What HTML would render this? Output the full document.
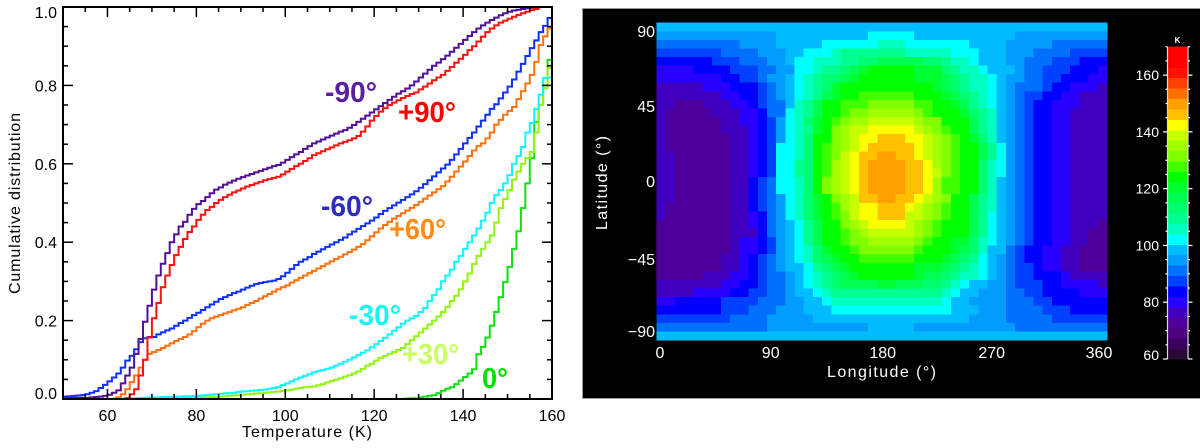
<!DOCTYPE html>
<html lang="en">
<head>
<meta charset="utf-8">
<title>Temperature distribution and map</title>
<style>
html,body{margin:0;padding:0;background:#fff;}
body{width:1200px;height:448px;overflow:hidden;}
svg{display:block;font-family:"Liberation Sans",sans-serif;}
</style>
</head>
<body>
<svg id="figure" xmlns="http://www.w3.org/2000/svg" width="1200" height="448" viewBox="0 0 1200 448">
  <rect x="0" y="0" width="1200" height="448" fill="#ffffff"/>
  <g id="cdf">
    <defs><clipPath id="plotClip"><rect x="63" y="6" width="489" height="394"/></clipPath></defs>
    <g id="cdfLines" clip-path="url(#plotClip)"></g>
    <g id="cdfAxes"></g>
    <text x="242" y="437" font-size="16" textLength="130" lengthAdjust="spacing" fill="#000">Temperature (K)</text>
    <text transform="translate(20,294) rotate(-90)" font-size="16" textLength="181" lengthAdjust="spacing" fill="#000">Cumulative distribution</text>
    <text x="325" y="102" font-size="29" font-weight="bold" fill="#5a1ea0" textLength="52" lengthAdjust="spacingAndGlyphs">-90°</text>
    <text x="398" y="122" font-size="29" font-weight="bold" fill="#ff0000" textLength="58" lengthAdjust="spacingAndGlyphs">+90°</text>
    <text x="321" y="216" font-size="29" font-weight="bold" fill="#2c2cc0" textLength="52" lengthAdjust="spacingAndGlyphs">-60°</text>
    <text x="389" y="239" font-size="29" font-weight="bold" fill="#ff8c1a" textLength="57" lengthAdjust="spacingAndGlyphs">+60°</text>
    <text x="349" y="325" font-size="29" font-weight="bold" fill="#19f5f5" textLength="52" lengthAdjust="spacingAndGlyphs">-30°</text>
    <text x="402" y="364" font-size="29" font-weight="bold" fill="#c8ff60" textLength="57" lengthAdjust="spacingAndGlyphs">+30°</text>
    <text x="482" y="388" font-size="29" font-weight="bold" fill="#00e000" textLength="26" lengthAdjust="spacingAndGlyphs">0°</text>
  </g>
  <rect x="582.5" y="8.5" width="618" height="390" fill="#000000" stroke="#9a9a9a" stroke-width="1"/>
  <g id="map" shape-rendering="crispEdges"></g>
  <g id="mapAxes"></g>
  <text x="827" y="377" font-size="16" fill="#fff" textLength="109" lengthAdjust="spacing">Longitude (°)</text>
  <text transform="translate(607,230) rotate(-90)" font-size="16" fill="#fff" textLength="94" lengthAdjust="spacing">Latitude (°)</text>
  <g id="colorbar"></g>
  <text x="1177.5" y="43" font-size="8" font-weight="bold" fill="#fff" text-anchor="middle">K</text>
</svg>
<script>
// ---------- Cumulative distribution data: one value per 1 K bin, from 50 K to 159 K ----------
const firstBinK = 50;
const xTickLabels = [60, 80, 100, 120, 140, 160];
const yTickLabels = ["0.0", "0.2", "0.4", "0.6", "0.8", "1.0"];
const seriesMinus90 = [
.003,.003,.003,.003,.003,.003,.004,.005,.006,.008,
.011,.016,.022,.04,.06,.08,.115,.153,.197,.238,
.279,.315,.345,.372,.40,.42,.44,.452,.47,.485,
.497,.505,.515,.525,.534,.54,.547,.552,.557,.562,
.566,.57,.574,.578,.582,.586,.59,.594,.597,.603,
.61,.617,.624,.63,.638,.645,.652,.657,.662,.667,
.672,.677,.682,.686,.692,.699,.707,.715,.723,.731,
.739,.747,.755,.763,.771,.779,.785,.792,.80,.81,
.82,.83,.84,.85,.858,.867,.876,.886,.896,.906,
.916,.926,.936,.945,.953,.96,.967,.973,.979,.984,
.988,.991,.993,.995,.997,.998,.999,1,1,1];
const seriesPlus90 = [
0,0,0,0,0,0,0,0,0,0,
0,0,0,0,.002,.012,.025,.06,.10,.157,
.206,.245,.285,.315,.342,.367,.388,.408,.426,.44,
.457,.47,.482,.49,.50,.508,.515,.521,.527,.532,
.537,.542,.546,.55,.554,.558,.561,.564,.567,.573,
.58,.587,.594,.60,.607,.614,.622,.627,.632,.637,
.642,.647,.652,.656,.66,.665,.671,.682,.695,.71,
.722,.733,.742,.75,.756,.762,.768,.773,.778,.782,
.79,.797,.805,.813,.82,.827,.837,.847,.858,.868,
.878,.89,.90,.912,.924,.936,.945,.953,.96,.965,
.97,.975,.98,.984,.988,.992,.995,1,1,1];
const seriesMinus60 = [
.006,.007,.008,.009,.01,.012,.016,.02,.028,.036,
.045,.055,.065,.08,.098,.11,.127,.145,.155,.158,
.158,.165,.17,.175,.18,.187,.194,.20,.207,.214,
.22,.227,.234,.241,.248,.255,.26,.265,.27,.274,
.279,.284,.289,.293,.296,.298,.30,.302,.306,.313,
.322,.332,.342,.35,.356,.362,.37,.376,.382,.388,
.394,.40,.406,.412,.42,.427,.434,.441,.448,.455,
.463,.472,.48,.487,.494,.501,.508,.515,.522,.53,
.539,.548,.558,.568,.578,.588,.598,.61,.624,.638,
.652,.666,.68,.695,.71,.725,.74,.752,.767,.782,
.797,.815,.835,.855,.875,.895,.915,.936,.952,.972];
const seriesPlus60 = [
0,0,0,0,0,0,0,0,0,0,
0,.001,.004,.012,.025,.043,.06,.08,.10,.115,
.12,.125,.13,.136,.142,.148,.153,.158,.165,.173,
.183,.192,.20,.206,.21,.214,.218,.222,.226,.23,
.234,.24,.245,.25,.256,.262,.268,.274,.28,.285,
.29,.297,.303,.309,.315,.321,.327,.333,.339,.345,
.351,.357,.363,.369,.375,.381,.388,.395,.405,.415,
.425,.435,.444,.452,.46,.467,.474,.481,.488,.495,
.503,.511,.519,.527,.535,.543,.555,.567,.58,.593,
.606,.62,.634,.645,.652,.665,.68,.70,.712,.725,
.735,.745,.765,.785,.805,.827,.86,.903,.925,.945];
const seriesMinus30 = [
0,0,0,0,0,0,0,0,0,0,
0,.001,.001,.001,.002,.002,.002,.003,.003,.004,
.004,.004,.005,.005,.005,.006,.006,.007,.007,.008,
.008,.009,.01,.011,.012,.013,.014,.015,.016,.018,
.019,.02,.021,.022,.023,.024,.026,.028,.031,.035,
.04,.045,.05,.055,.059,.063,.068,.071,.074,.077,
.08,.085,.09,.095,.10,.106,.112,.118,.124,.132,
.14,.148,.156,.165,.174,.183,.192,.20,.206,.212,
.222,.232,.25,.265,.28,.30,.315,.33,.35,.365,
.383,.40,.417,.435,.455,.475,.50,.52,.533,.55,
.571,.60,.62,.643,.68,.704,.74,.776,.819,.82];
const seriesPlus30 = [
0,0,0,0,0,0,0,0,0,0,
0,0,0,0,0,0,0,.001,.001,.001,
.001,.002,.002,.002,.002,.003,.003,.003,.003,.003,
.003,.004,.004,.005,.005,.006,.007,.008,.009,.01,
.011,.012,.013,.014,.015,.016,.017,.018,.019,.02,
.022,.024,.026,.028,.03,.031,.032,.035,.038,.042,
.046,.049,.053,.057,.061,.065,.07,.077,.085,.09,
.098,.105,.11,.115,.12,.125,.13,.14,.15,.16,
.17,.18,.19,.20,.21,.222,.235,.25,.263,.28,
.30,.32,.344,.365,.383,.40,.417,.45,.487,.51,
.533,.56,.58,.60,.615,.63,.68,.75,.793,.844];
const seriesZero = [
0,0,0,0,0,0,0,0,0,0,
0,0,0,0,0,0,0,0,0,0,
0,0,0,0,0,0,0,0,0,0,
0,0,0,0,0,0,0,0,0,0,
0,0,0,0,0,0,0,0,0,0,
0,0,0,0,0,0,0,0,0,0,
0,0,0,0,0,0,0,0,0,0,
0,0,0,0,0,0,0,.001,.002,.002,
.004,.006,.008,.01,.015,.021,.026,.03,.038,.047,
.056,.065,.076,.114,.133,.157,.187,.222,.26,.298,
.337,.383,.428,.487,.55,.614,.707,.75,.80,.865];
const lineOrder = [
  ["line-zero", seriesZero, "#10e010"],
  ["line-plus-30", seriesPlus30, "#90f510"],
  ["line-minus-30", seriesMinus30, "#10f5ff"],
  ["line-plus-60", seriesPlus60, "#ff7010"],
  ["line-minus-60", seriesMinus60, "#1030ff"],
  ["line-minus-90", seriesMinus90, "#50109a"],
  ["line-plus-90", seriesPlus90, "#ff1010"]
];

// ---------- Map data: colour-table level (0-29) per cell, rows from +90 to -90, columns 0 to 360 ----------
const mapLongitudeLabels = [0, 90, 180, 270, 360];
const mapLatitudeLabels = ["90", "45", "0", "\u221245", "\u221290"];
const colorbarLabels = [60, 80, 100, 120, 140, 160];
const mapLevels = [
[10,10,10,10,10,10,10,10,10,10,10,10,10,10,10,10,10,10,10,10,10,10,10,10,10,10,10,10,10,10,10,10,10,10,10,10,10,10,10,10,10,10,10,10,10,10,10,10,10],
[9,9,9,9,9,9,9,9,9,9,9,9,9,10,10,10,10,10,10,10,10,10,10,11,11,11,11,11,10,10,10,10,10,10,10,10,10,10,10,9,9,9,9,9,9,9,9,9,9],
[8,8,8,8,8,8,8,8,8,9,9,9,9,10,10,10,10,10,11,11,11,11,11,11,12,12,12,11,11,11,11,11,11,11,10,10,10,10,9,9,9,9,9,8,8,8,8,8,8],
[7,7,7,7,7,7,7,8,8,8,8,9,9,9,10,10,11,11,11,12,13,13,13,13,13,13,13,12,12,12,12,12,11,11,11,10,10,10,9,9,9,8,8,8,8,7,7,7,7],
[6,6,6,6,6,6,7,7,7,8,8,8,9,9,10,11,11,12,12,12,13,13,14,14,15,15,15,15,15,14,14,13,12,12,11,10,10,10,9,9,8,8,8,7,7,7,6,6,6],
[5,5,5,5,6,6,6,6,7,7,7,8,8,9,9,11,11,12,13,13,14,15,16,17,17,17,17,17,16,16,16,14,13,12,12,11,10,10,10,9,8,8,7,7,7,6,6,6,5],
[5,5,5,5,5,5,5,6,6,7,7,8,9,9,10,11,12,13,14,14,15,16,17,17,17,17,17,17,16,16,16,15,14,13,12,12,11,10,9,9,8,8,7,7,6,6,6,5,5],
[4,4,4,4,4,5,5,5,6,6,6,7,8,9,10,11,12,13,14,16,17,17,17,17,17,17,17,17,17,17,16,15,14,13,12,12,11,10,9,8,8,8,7,6,6,5,5,5,4],
[4,4,4,4,4,4,4,5,5,6,6,7,8,9,10,11,12,13,15,16,17,17,18,18,18,18,18,18,17,17,17,16,15,14,13,12,11,10,9,8,7,7,6,6,5,5,4,4,4],
[4,4,3,3,3,4,4,4,5,5,6,7,8,8,10,12,13,15,17,17,18,18,18,19,19,19,19,19,18,18,17,17,16,15,13,12,11,10,9,8,7,6,6,5,5,5,4,4,4],
[4,3,3,3,3,3,4,4,4,5,5,6,8,8,11,12,13,15,17,17,18,19,19,20,20,20,20,20,19,18,17,17,17,16,14,13,12,10,9,8,7,6,6,5,5,4,4,4,4],
[4,3,3,3,3,3,3,4,4,5,5,6,7,9,11,12,14,16,17,18,19,20,20,21,21,21,21,21,20,19,19,17,17,17,15,13,12,10,9,8,7,6,6,5,5,4,4,4,4],
[4,3,3,3,3,3,3,4,4,4,5,6,7,9,11,12,13,16,17,19,20,21,21,22,22,22,22,22,21,20,19,18,17,17,15,13,12,10,9,8,7,6,6,5,5,4,4,4,4],
[4,3,3,3,3,3,3,3,4,4,5,6,7,9,11,12,14,17,17,19,20,21,22,22,23,23,23,22,22,21,20,19,18,17,16,14,12,10,9,8,7,6,6,5,5,4,4,4,4],
[4,3,3,3,3,3,3,3,4,4,5,6,7,11,11,12,14,17,18,19,20,21,22,23,23,23,23,23,22,21,20,19,18,17,17,15,13,11,9,8,7,6,6,5,5,4,4,4,4],
[4,4,3,3,3,3,3,3,4,4,5,6,7,11,11,12,14,17,18,19,21,22,23,23,24,24,23,23,22,21,20,19,18,17,17,15,13,11,9,8,7,6,6,5,5,4,4,4,4],
[4,4,3,3,3,3,3,3,4,4,5,6,7,11,11,13,14,17,18,20,21,22,23,24,24,24,24,23,23,22,20,19,18,17,17,14,12,11,9,8,7,6,6,5,5,4,4,4,4],
[4,4,3,3,3,3,3,3,4,4,5,6,7,11,11,13,14,17,18,20,21,22,23,24,24,24,24,23,23,22,21,19,18,17,17,14,12,11,9,8,7,6,6,5,5,4,4,4,4],
[4,4,3,3,3,3,3,3,4,4,6,7,8,11,11,12,14,17,19,20,21,22,23,24,24,24,24,23,23,22,20,18,18,17,17,14,12,10,9,8,7,6,6,5,5,4,4,4,4],
[4,4,3,3,3,3,3,3,4,4,6,7,8,11,11,12,14,17,19,20,21,22,23,24,24,24,24,23,23,22,20,18,18,17,17,14,12,10,9,8,7,6,6,5,5,4,4,4,4],
[4,4,3,3,3,3,3,3,4,4,6,7,8,9,11,12,14,16,17,19,20,21,23,23,24,24,23,23,22,21,20,19,17,17,15,13,12,10,9,8,7,6,6,5,5,4,4,4,4],
[4,3,3,3,3,3,3,3,4,4,6,7,8,9,11,12,14,16,17,18,20,21,22,22,23,23,23,22,21,20,19,18,17,17,15,13,12,10,9,8,7,6,6,5,5,4,4,4,4],
[4,3,3,3,3,3,3,3,4,4,5,6,8,9,11,12,14,16,17,18,19,21,22,22,23,23,23,21,21,20,19,18,17,17,15,13,11,10,9,8,7,6,6,5,5,4,4,4,4],
[3,3,3,3,3,3,3,3,4,4,5,6,8,9,10,11,13,15,17,17,19,20,21,22,22,22,22,21,20,19,18,17,17,17,15,13,11,10,9,8,7,6,6,5,5,4,4,4,3],
[3,3,3,3,3,3,3,3,4,4,4,6,8,9,10,11,13,15,17,17,18,19,20,21,21,21,21,21,20,19,18,17,17,17,15,13,11,10,9,8,7,6,6,5,5,4,4,3,3],
[3,3,3,3,3,3,3,3,4,5,5,6,7,9,10,11,13,15,17,17,18,19,19,20,20,20,20,20,19,18,17,17,16,16,14,12,11,10,9,8,7,6,6,5,5,4,4,3,3],
[3,3,3,3,3,3,3,3,4,5,5,6,7,9,10,11,12,14,16,17,17,18,19,19,19,19,19,19,18,17,17,17,16,15,14,12,10,10,8,7,6,6,5,5,4,4,3,3,3],
[3,3,3,3,3,3,3,4,4,5,6,7,8,9,10,11,12,14,15,16,17,17,18,18,18,18,18,18,17,17,17,16,15,14,13,11,10,9,8,7,6,6,5,5,4,4,3,3,3],
[3,3,3,3,3,3,3,4,4,5,6,7,8,9,10,10,11,13,14,15,16,17,17,17,17,17,17,17,16,16,16,15,14,13,12,11,10,9,8,7,7,6,5,5,4,4,3,3,3],
[3,3,3,3,3,4,4,4,5,5,6,7,8,8,9,10,11,12,13,14,15,16,17,17,17,17,17,17,16,15,15,14,13,12,12,11,10,9,8,7,7,6,6,6,5,4,4,4,4],
[4,4,4,4,4,4,4,5,5,6,6,7,8,8,9,10,11,12,13,14,15,15,15,15,16,16,15,15,15,14,14,13,12,11,10,10,9,9,8,7,7,7,6,6,5,5,5,5,4],
[4,4,4,4,5,5,5,5,6,6,7,7,8,8,9,10,10,11,12,13,13,13,13,13,13,13,13,13,13,13,13,12,11,10,10,9,9,9,8,8,7,7,6,6,6,6,5,5,5],
[5,5,6,6,6,6,6,7,7,7,7,8,8,8,9,9,10,10,11,12,12,12,12,12,12,12,12,12,12,12,12,11,10,10,9,9,9,9,8,8,8,7,7,6,6,6,6,6,6],
[6,6,6,6,6,6,6,7,7,7,8,8,8,9,9,9,10,10,10,11,11,11,11,11,11,11,11,11,11,11,11,11,10,10,10,9,9,9,8,8,8,8,7,7,7,6,6,6,6],
[7,7,7,7,7,7,7,7,8,8,8,8,9,9,9,9,9,10,10,10,10,10,10,10,10,10,10,10,10,10,10,10,10,10,9,9,9,9,8,8,8,8,8,7,7,7,7,7,7],
[8,8,8,8,8,8,8,8,8,8,8,8,9,9,9,9,9,9,9,9,9,9,9,10,10,10,10,10,9,9,9,9,9,9,9,9,9,9,9,8,8,8,8,8,8,8,8,8,8],
[10,10,10,10,10,10,10,10,10,10,10,10,10,10,10,10,10,10,10,10,10,10,10,10,10,10,10,10,10,10,10,10,10,10,10,10,10,10,10,10,10,10,10,10,10,10,10,10,10]
];
const bandColors = ["#2a0838","#3c0060","#4c0080","#50009a","#4000c0","#2800ff","#0000ff","#0040ff","#0070ff","#009cff","#00bcff","#00ffff","#00ffc0","#00ff90","#00ff70","#00ff50","#00ff30","#00ff00","#40ff00","#80ff00","#a0ff00","#c8ff00","#ffff00","#ffc000","#ffa000","#ff7000","#ff4000","#ff1000","#ff0000","#ff0000"];

// ---------- Helpers ----------
const NS = "http://www.w3.org/2000/svg";
function mk(tag, parent, attrs) {
  const el = document.createElementNS(NS, tag);
  for (const k in attrs) el.setAttribute(k, attrs[k]);
  parent.appendChild(el);
  return el;
}
function tickLine(parent, x1, y1, x2, y2, color, width) {
  const el = mk("line", parent, {x1: x1, y1: y1, x2: x2, y2: y2, stroke: color, "stroke-width": width});
  
  
  return el;
}
function label(parent, x, y, str, size, color, anchor) {
  const el = mk("text", parent, {x: x, y: y, "font-size": size, fill: color, "text-anchor": anchor});
  el.textContent = str;
  
  
  return el;
}

// ---------- Left chart ----------
const xScale = k => 63 + (k - 50) * (552 - 63) / 110;
const yScale = v => 399 - v * 392;
const linesGroup = document.getElementById("cdfLines");
lineOrder.forEach(entry => {
  const values = entry[1];
  let d = "";
  values.forEach((v, i) => {
    const k = firstBinK + i;
    d += (i === 0 ? "M" : "L") + xScale(k).toFixed(2) + " " + yScale(v).toFixed(2);
    d += "L" + xScale(k + 1).toFixed(2) + " " + yScale(v).toFixed(2);
  });
  const p = mk("path", linesGroup, {d: d, fill: "none", stroke: entry[2], "stroke-width": 2});
  
  
});
const axes = document.getElementById("cdfAxes");
for (let k = 50; k <= 160; k += 5) {
  const len = k % 20 === 0 ? 10 : 5;
  tickLine(axes, xScale(k), 399, xScale(k), 399 - len, "#000", 1.5);
  tickLine(axes, xScale(k), 7, xScale(k), 7 + len, "#000", 1.5);
}
for (let i = 0; i <= 20; i++) {
  const v = i / 20;
  const len = i % 4 === 0 ? 10 : 5;
  tickLine(axes, 63, yScale(v), 63 + len, yScale(v), "#000", 1.5);
  tickLine(axes, 552, yScale(v), 552 - len, yScale(v), "#000", 1.5);
}
const frame = mk("rect", axes, {x: 63, y: 7, width: 489, height: 392, fill: "none", stroke: "#000", "stroke-width": 2});


xTickLabels.forEach(k => label(axes, xScale(k), 421, String(k), 16, "#000", "middle"));
yTickLabels.forEach(s => {
  const v = parseFloat(s);
  const off = v === 0 ? 0 : (v === 1 ? 11 : 6);
  label(axes, 57, yScale(v) + off, s, 16, "#000", "end");
});

// ---------- Map ----------
const lonCount = mapLevels[0].length;
const latCount = mapLevels.length;
const lonScale = c => 656.7 + c * (1107 - 656.7) / lonCount;
const latScale = r => 22.7 + r * (340 - 22.7) / latCount;
const mapGroup = document.getElementById("map");
mapLevels.forEach((row, r) => {
  row.forEach((lvl, c) => {
    const cell = mk("rect", mapGroup, {
      x: lonScale(c).toFixed(2), y: latScale(r).toFixed(2),
      width: (lonScale(c + 1) - lonScale(c) + 0.3).toFixed(2),
      height: (latScale(r + 1) - latScale(r) + 0.3).toFixed(2),
      fill: bandColors[lvl]
    });
    
    
  });
});
const mapAxes = document.getElementById("mapAxes");
[37, 112, 187, 265, 337].forEach((y, i) => label(mapAxes, 655, y, mapLatitudeLabels[i], 16, "#fff", "end"));
[660, 770.7, 882.7, 991.7, 1099].forEach((x, i) => label(mapAxes, x, 358, String(mapLongitudeLabels[i]), 16, "#fff", "middle"));

// ---------- Colorbar ----------
const cbScale = t => 359 - (t - 60) * (359 - 46.7) / 110;
const cb = document.getElementById("colorbar");
bandColors.forEach((col, b) => {
  const t0 = 60 + b * 110 / bandColors.length;
  const t1 = 60 + (b + 1) * 110 / bandColors.length;
  const band = mk("rect", cb, {x: 1167.5, y: cbScale(t1).toFixed(2), width: 20, height: (cbScale(t0) - cbScale(t1) + 0.3).toFixed(2), fill: col, "shape-rendering": "crispEdges"});
  
  
});
tickLine(cb, 1167.5, 46.7, 1167.5, 359, "#d8d8d8", 1.2);
tickLine(cb, 1188, 46.7, 1188, 359, "#d8d8d8", 1.2);
for (let t = 60; t <= 170; t += 5) {
  const major = t % 20 === 0 && t < 170;
  tickLine(cb, major ? 1163 : 1165.5, cbScale(t), 1167.5, cbScale(t), "#fff", 1.2);
  tickLine(cb, 1188, cbScale(t), major ? 1192.5 : 1190, cbScale(t), "#fff", 1.2);
}
colorbarLabels.forEach(t => {
  const off = t === 60 ? 1 : 5;
  label(cb, 1159, cbScale(t) + off, String(t), 14, "#fff", "end");
});
</script>
</body>
</html>
